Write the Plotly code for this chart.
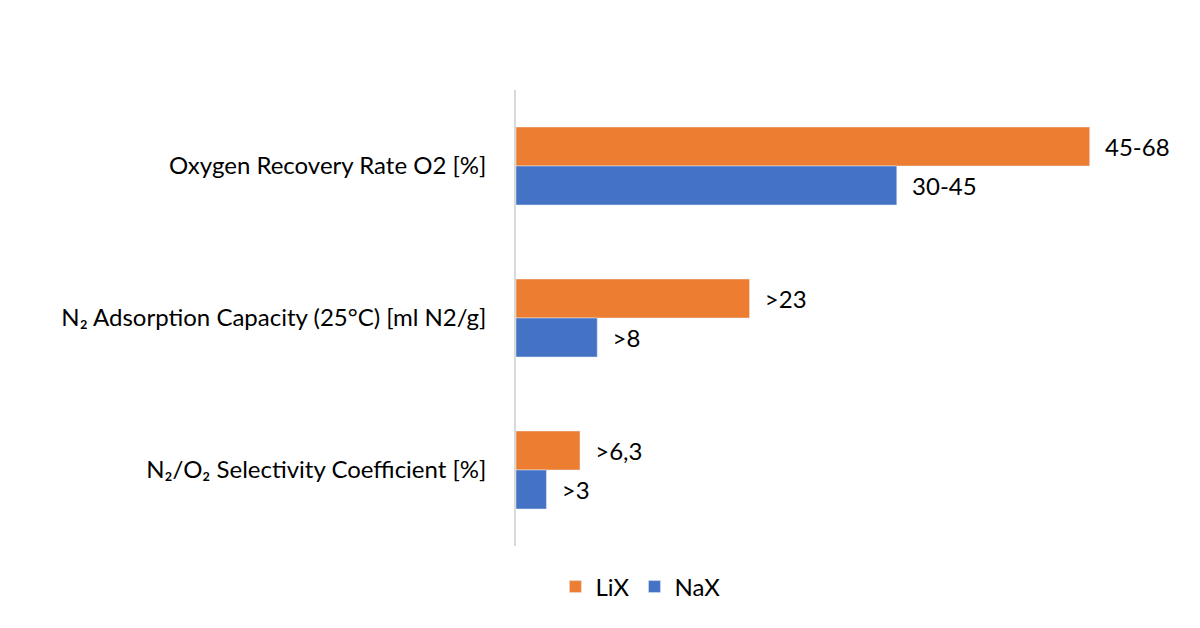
import plotly.graph_objects as go

# categories (top to bottom) and values
categories = [
    'Oxygen Recovery Rate O2 [%]',
    'N₂ Adsorption Capacity (25°C) [ml N2/g]',
    'N₂/O₂ Selectivity Coefficient [%]',
]
lix_values = [56.5, 23, 6.3]
nax_values = [37.5, 8, 3]
lix_labels = ['45-68', '>23', '>6,3']
nax_labels = ['30-45', '>8', '>3']

font_family = 'Lato, Open Sans, sans-serif'

fig = go.Figure()
fig.add_trace(go.Bar(y=categories, x=lix_values, name='LiX', orientation='h',
                     marker_color='#ED7D31', text=lix_labels,
                     texttemplate='\u00a0\u00a0%{text}',
                     textposition='outside', cliponaxis=False,
                     textfont=dict(size=24, color='#000000')))
fig.add_trace(go.Bar(y=categories, x=nax_values, name='NaX', orientation='h',
                     marker_color='#4472C4', text=nax_labels,
                     texttemplate='\u00a0\u00a0%{text}',
                     textposition='outside', cliponaxis=False,
                     textfont=dict(size=24, color='#000000')))

fig.update_layout(
    width=1200, height=628,
    barmode='group', bargap=0.487, bargroupgap=0,
    plot_bgcolor='white', paper_bgcolor='white',
    font=dict(family=font_family, size=24, color='#000000'),
    margin=dict(l=508, r=32, t=82, b=90),
    showlegend=True,
    legend=dict(orientation='h', xref='container', x=0.527, xanchor='center',
                yref='container', y=0.078, yanchor='middle',
                font=dict(size=24), traceorder='normal'),
    xaxis=dict(range=[0, 65], visible=False, showgrid=False, zeroline=False),
    yaxis=dict(autorange='reversed', showline=True, linecolor='#D9D9D9',
               linewidth=1.5, showgrid=False, ticks='', ticklabelstandoff=23,
               tickfont=dict(size=24)),
)

fig.write_html('out.html')
